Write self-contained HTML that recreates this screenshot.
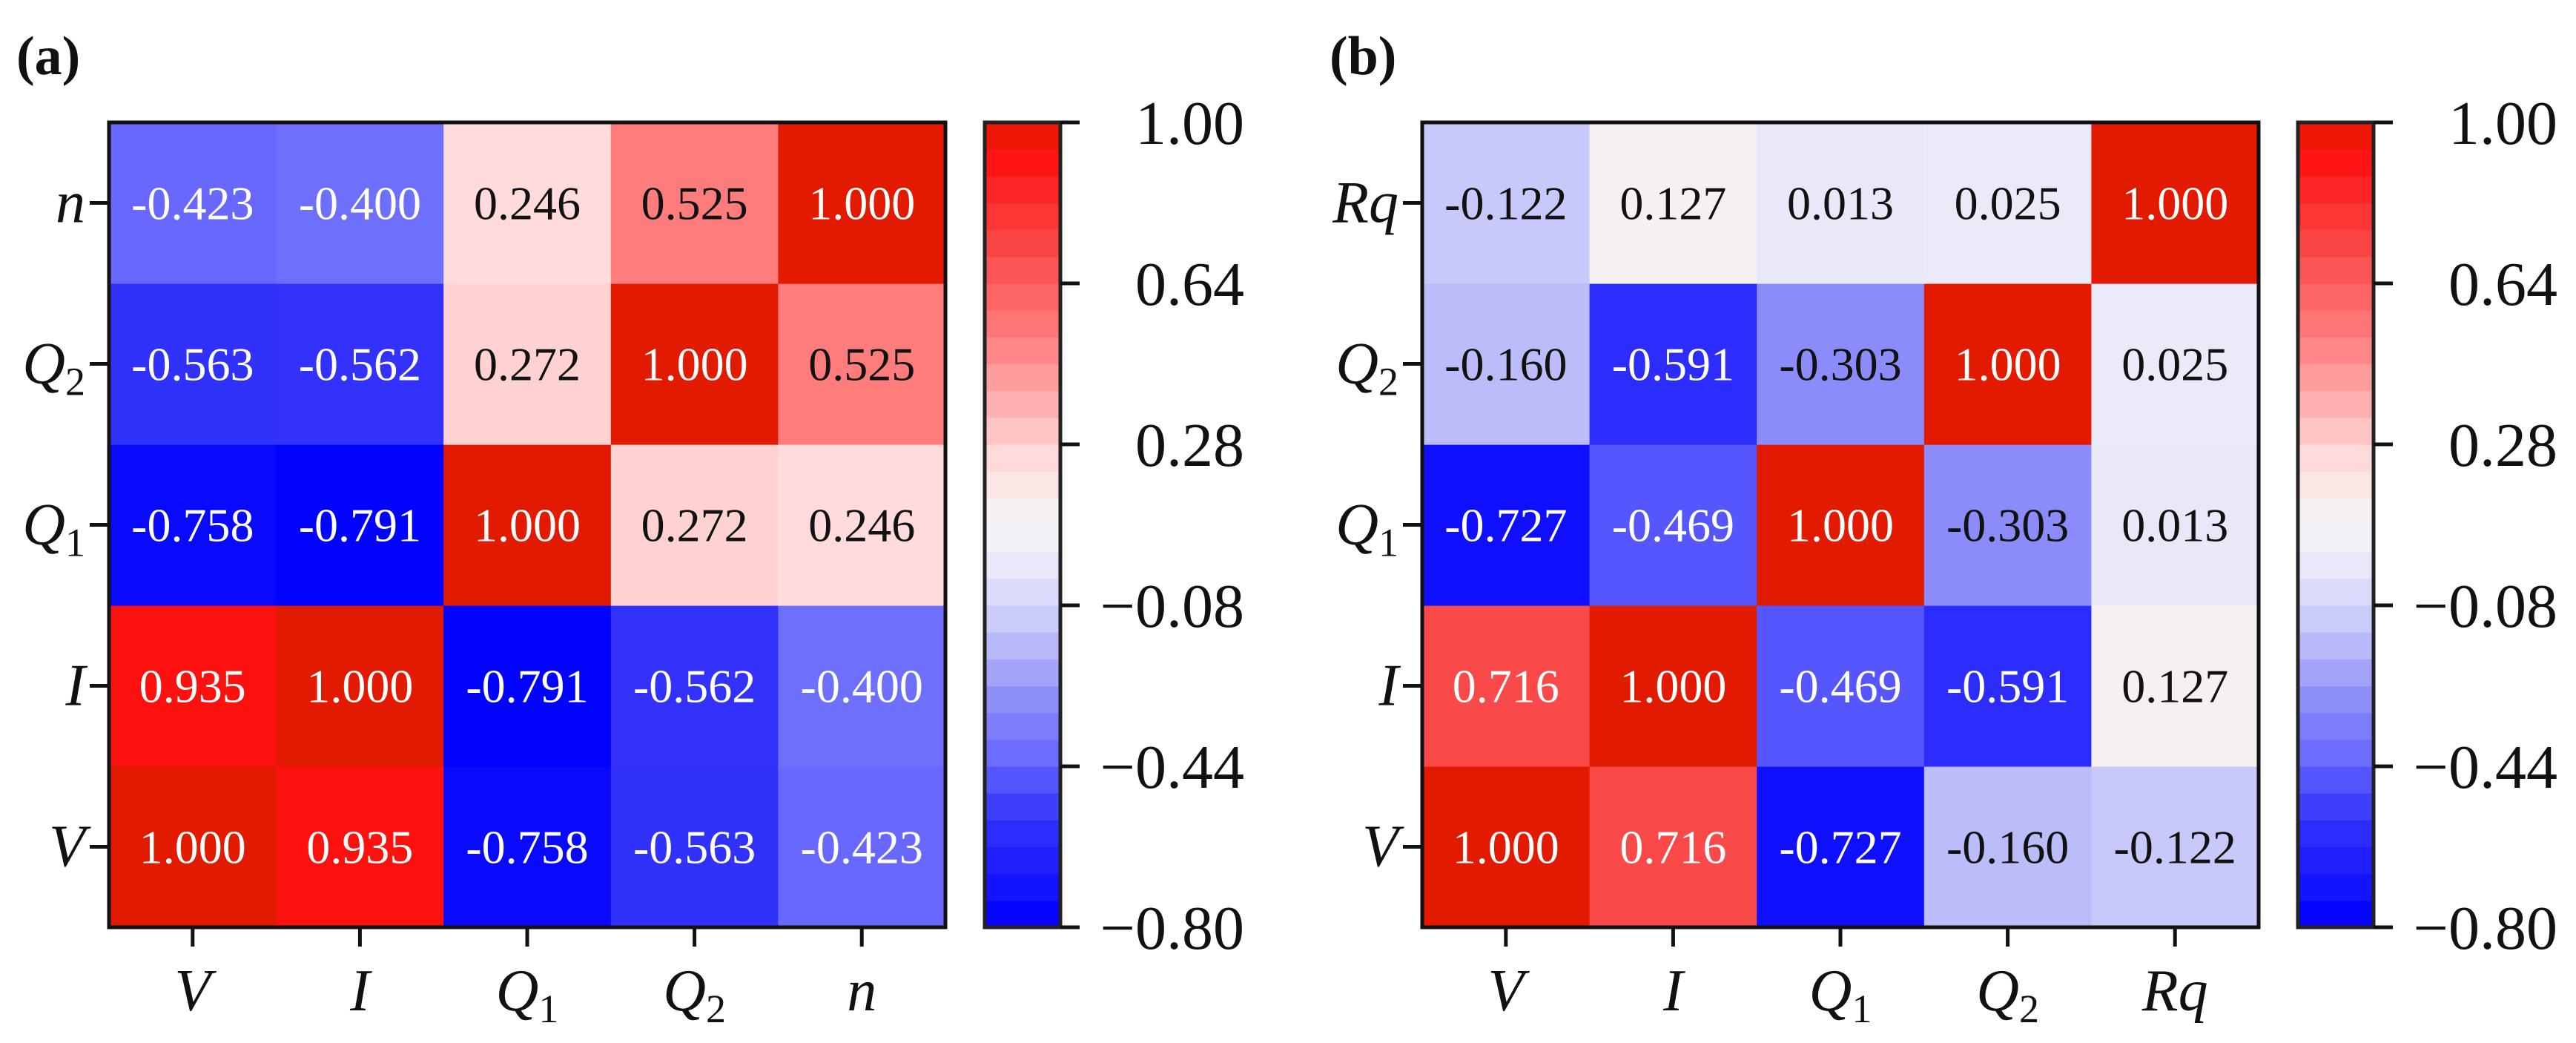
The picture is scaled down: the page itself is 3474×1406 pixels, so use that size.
<!DOCTYPE html>
<html><head><meta charset="utf-8"><style>
html,body{margin:0;padding:0;background:#fff;}
svg{display:block;}
text{font-family:"Liberation Serif","DejaVu Serif",serif;}
</style></head><body>
<svg id="fig" width="3474" height="1406" viewBox="0 0 3474 1406" xmlns="http://www.w3.org/2000/svg"></svg>
<script>
// ---- data ----
const labelsA = ["V","I","Q1","Q2","n"];
const labelsB = ["V","I","Q1","Q2","Rq"];
// matrix rows in order of labels (row i = label i), symmetric
const matA = [
 [1.000, 0.935,-0.758,-0.563,-0.423],
 [0.935, 1.000,-0.791,-0.562,-0.400],
 [-0.758,-0.791,1.000,0.272,0.246],
 [-0.563,-0.562,0.272,1.000,0.525],
 [-0.423,-0.400,0.246,0.525,1.000]
];
const matB = [
 [1.000, 0.716,-0.727,-0.160,-0.122],
 [0.716, 1.000,-0.469,-0.591,0.127],
 [-0.727,-0.469,1.000,-0.303,0.013],
 [-0.160,-0.591,-0.303,1.000,0.025],
 [-0.122,0.127,0.013,0.025,1.000]
];
const cbTicks = [1.00,0.64,0.28,-0.08,-0.44,-0.80];
const cbMin = -0.8, cbMax = 1.0;

const NS="http://www.w3.org/2000/svg";
const svg=document.getElementById('fig');
function mk(tag,attrs,parent){const e=document.createElementNS(NS,tag);for(const k in attrs)e.setAttribute(k,attrs[k]);(parent||svg).appendChild(e);return e;}

const stops=[[-0.8,[0,0,255]],[-0.56,[50,50,252]],[-0.42,[105,105,255]],[-0.3,[140,140,250]],[-0.14,[195,195,250]],[0.0,[230,230,250]],[0.1,[245,245,245]],[0.25,[255,218,218]],[0.52,[255,125,125]],[0.72,[250,72,72]],[0.93,[255,16,16]],[1.0,[226,26,0]]];
function cmap(v){
  if(v<=stops[0][0])return 'rgb('+stops[0][1].join(',')+')';
  for(let i=1;i<stops.length;i++){
    if(v<=stops[i][0]){const a=stops[i-1],b=stops[i];const t=(v-a[0])/(b[0]-a[0]);
      return 'rgb('+[0,1,2].map(k=>Math.round(a[1][k]+(b[1][k]-a[1][k])*t)).join(',')+')';}
  }
  return 'rgb('+stops[stops.length-1][1].join(',')+')';
}
function axisLabel(g,lab,x,y,anchor){
  const t=mk('text',{x:x,y:y,'text-anchor':anchor,'font-size':80,'font-style':'italic',fill:'#111'},g);
  if(lab.length===2&&lab[0]==='Q'){
    t.appendChild(document.createTextNode('Q'));
    const s=mk('tspan',{'font-size':54,dy:16,'font-style':'normal'},t);s.textContent=lab[1];
  } else t.textContent=lab;
  return t;
}

function panel(ox,labels,mat,tag,name){
  const g=mk('g',{});
  
  
  const L=ox+147,T=165,W=1128,H=1085,n=labels.length,cw=W/n,ch=H/n;
  const xS=i=>L+i*cw, yS=i=>T+(n-1-i)*ch;
  const pl=mk('text',{x:ox+22,y:100,'font-size':74,'font-weight':'bold',fill:'#111'},g);
  pl.textContent=tag;
  
  
  for(let r=0;r<n;r++)for(let c=0;c<n;c++){
    const v=mat[r][c];
    const rect=mk('rect',{x:xS(c),y:yS(r),width:cw+0.6,height:ch+0.6,fill:cmap(v)},g);
    
    
    const tx=mk('text',{x:xS(c)+cw/2,y:yS(r)+ch/2+22,'text-anchor':'middle','font-size':64,fill:(v>0.6||v<-0.35)?'#fff':'#111'},g);
    tx.textContent=v.toFixed(3);
    
    
  }
  const fr=mk('rect',{x:L,y:T,width:W,height:H,fill:'none',stroke:'#111','stroke-width':5},g);
  
  
  for(let i=0;i<n;i++){
    const cx=xS(i)+cw/2, cy=yS(i)+ch/2;
    mk('line',{x1:cx,y1:T+H,x2:cx,y2:T+H+26,stroke:'#111','stroke-width':5},g);
    mk('line',{x1:L-26,y1:cy,x2:L,y2:cy,stroke:'#111','stroke-width':5},g);
    const xl=axisLabel(g,labels[i],cx,T+H+112,'middle');
    
    
    const yl=axisLabel(g,labels[i],L-32,cy+26,'end');
    
    
  }
  // colorbar
  const cbx=ox+1328,cbw=102,nb=30;
  const cyS=v=>T+(cbMax-v)/(cbMax-cbMin)*H;
  for(let b=0;b<nb;b++){
    const v0=cbMin+(cbMax-cbMin)*b/nb, v1=cbMin+(cbMax-cbMin)*(b+1)/nb;
    const br=mk('rect',{x:cbx,y:cyS(v1),width:cbw,height:cyS(v0)-cyS(v1)+0.6,fill:cmap((v0+v1)/2)},g);
    
    
  }
  const cf=mk('rect',{x:cbx,y:T,width:cbw,height:H,fill:'none',stroke:'#222','stroke-width':5},g);
  
  
  cbTicks.forEach(v=>{
    const y=cyS(v);
    mk('line',{x1:cbx+cbw,y1:y,x2:cbx+cbw+26,y2:y,stroke:'#111','stroke-width':5},g);
    const t=mk('text',{x:ox+1678,y:y+29,'text-anchor':'end','font-size':84,fill:'#111'},g);
    t.textContent=(v<0?'\u2212':'')+Math.abs(v).toFixed(2);
    
    
  });
}
panel(0,labelsA,matA,'(a)','panel-a');
panel(1771,labelsB,matB,'(b)','panel-b');
</script>
</body></html>
